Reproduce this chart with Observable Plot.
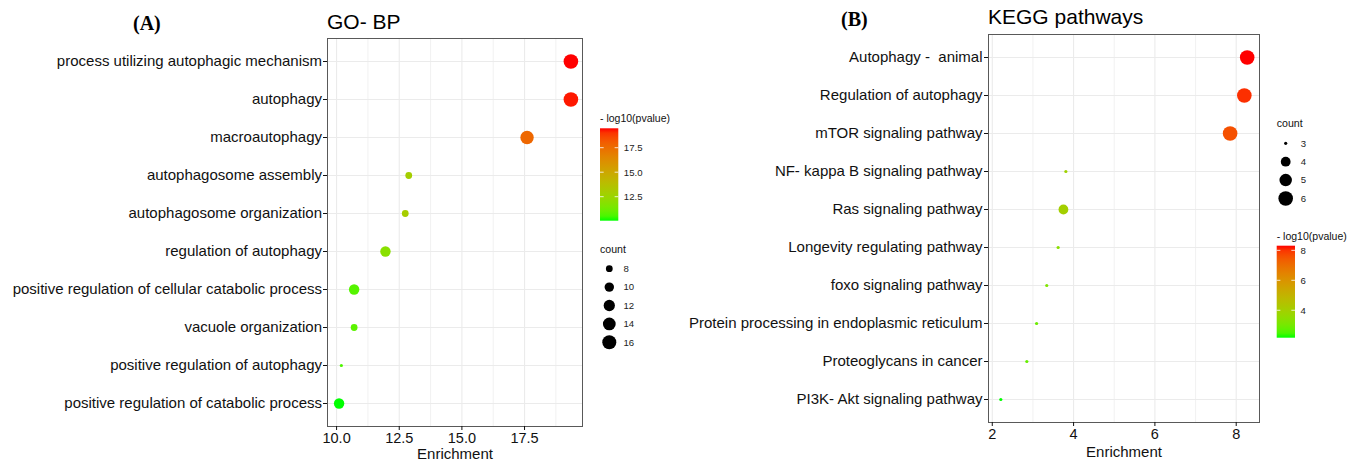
<!DOCTYPE html>
<html>
<head>
<meta charset="utf-8">
<script src="https://cdn.jsdelivr.net/npm/d3@7"></script>
<script src="https://cdn.jsdelivr.net/npm/@observablehq/plot@0.6"></script>
<style>
  body { margin: 0; background: #fff; }
  #wrap { position: relative; width: 1359px; height: 464px; overflow: hidden; background: #fff;
          font-family: "Liberation Sans", Arial, sans-serif; }
  #wrap > svg { position: absolute; top: 0; }
</style>
</head>
<body>
<div id="wrap"></div>
<script>
// ---------- Panel A: GO-BP ----------
const goTerms = [
  "process utilizing autophagic mechanism",
  "autophagy",
  "macroautophagy",
  "autophagosome assembly",
  "autophagosome organization",
  "regulation of autophagy",
  "positive regulation of cellular catabolic process",
  "vacuole organization",
  "positive regulation of autophagy",
  "positive regulation of catabolic process"
];
const goEnrichment = [19.35, 19.35, 17.6, 12.88, 12.74, 11.95, 10.7, 10.7, 10.19, 10.1];
const goCount = [17, 17, 15, 8, 8, 11, 11, 8, 7, 11];
const goLogP = [19.48, 19.35, 17.7, 12.9, 13.0, 11.9, 10.7, 10.8, 10.6, 10.05];
const goXTicks = [10, 12.5, 15, 17.5];
const goXMinor = [11.25, 13.75, 16.25, 18.75];
const goColorTicks = [12.5, 15, 17.5];
const goCountBreaks = [8, 10, 12, 14, 16];

// ---------- Panel B: KEGG ----------
const keggTerms = [
  "Autophagy -  animal",
  "Regulation of autophagy",
  "mTOR signaling pathway",
  "NF- kappa B signaling pathway",
  "Ras signaling pathway",
  "Longevity regulating pathway",
  "foxo signaling pathway",
  "Protein processing in endoplasmic reticulum",
  "Proteoglycans in cancer",
  "PI3K- Akt signaling pathway"
];
const keggEnrichment = [8.27, 8.20, 7.85, 3.81, 3.75, 3.62, 3.34, 3.09, 2.85, 2.21];
const keggCount = [6, 6, 6, 3, 4, 3, 3, 3, 3, 3];
const keggLogP = [8.31, 8.05, 7.6, 3.9, 4.0, 3.4, 3.2, 2.9, 2.8, 2.17];
const keggXTicks = [2, 4, 6, 8];
const keggXMinor = [3, 5, 7];
const keggColorTicks = [4, 6, 8];
const keggCountBreaks = [3, 4, 5, 6];

const lowColor = "#00FF00", highColor = "#FF0000";
const font = "Liberation Sans, Arial, sans-serif";

function extent(a) { return [Math.min(...a), Math.max(...a)]; }

function panel(o) {
  const data = o.terms.map((t, i) => ({term: t, enrichment: o.enrich[i], count: o.counts[i], logp: o.logp[i]}));
  const [cMin, cMax] = extent(o.counts);
  const [xMin, xMax] = extent(o.enrich);
  const pad = (xMax - xMin) * 0.05;
  const svg = Plot.plot({
    width: o.width, height: 464,
    marginLeft: o.mL, marginRight: o.mR, marginTop: o.mT, marginBottom: o.mB,
    style: {fontFamily: font, background: "transparent", overflow: "visible", color: "#111"},
    x: {domain: [xMin - pad, xMax + pad]},
    y: {type: "point", domain: o.terms, padding: 0.6},
    color: {type: "linear", domain: extent(o.logp), range: [lowColor, highColor], interpolate: "lab"},
    r: {type: "sqrt", transform: c => c - cMin, domain: [0, cMax - cMin], range: [1.6, 7.3]},
    marks: [
      Plot.gridX(o.minor, {stroke: "#EBEBEB", strokeOpacity: 1, strokeWidth: 0.7}),
      Plot.gridX(o.ticks, {stroke: "#EBEBEB", strokeOpacity: 1, strokeWidth: 1.1}),
      Plot.gridY(o.terms, {stroke: "#EBEBEB", strokeOpacity: 1, strokeWidth: 1.1}),
      Plot.frame({stroke: "#595959", strokeWidth: 1}),
      Plot.axisY({tickSize: 4, tickPadding: o.yPad, fontSize: 15, color: "#111", label: null}),
      Plot.axisX(o.ticks, {tickSize: 4, tickPadding: o.xPad, fontSize: 14.5, color: "#111",
                          tickFormat: o.fmt, label: null}),
      Plot.text(["Enrichment"], {text: d => d, frameAnchor: "bottom", dy: o.labelDy,
                                 lineAnchor: "bottom", fontSize: 15, fill: "#111"}),
      Plot.dot(data, {x: "enrichment", y: "term", r: "count", fill: "logp"})
    ]
  });
  svg.style.left = o.left + "px";
  return svg;
}

const wrap = document.getElementById("wrap");

wrap.appendChild(panel({
  terms: goTerms, enrich: goEnrichment, counts: goCount, logp: goLogP,
  ticks: goXTicks, minor: goXMinor, fmt: d3.format(".1f"),
  left: 0, width: 600, mL: 327, mR: 18, mT: 38, mB: 38,
  yPad: 1.5, xPad: 2.5, labelDy: 32.5
}));

wrap.appendChild(panel({
  terms: keggTerms, enrich: keggEnrichment, counts: keggCount, logp: keggLogP,
  ticks: keggXTicks, minor: keggXMinor, fmt: d3.format("d"),
  left: 680, width: 590, mL: 308, mR: 11, mT: 34, mB: 42,
  yPad: 2, xPad: 2, labelDy: 34
}));

// ---------- overlay: titles and legends ----------
const ov = d3.select(wrap).append("svg")
  .attr("width", 1359).attr("height", 464)
  .style("left", "0px").style("pointer-events", "none")
  .attr("font-family", font);

function title(x, y, txt, size, fam, weight) {
  ov.append("text").attr("x", x).attr("y", y).text(txt)
    .attr("font-size", size).attr("font-family", fam).attr("font-weight", weight || "normal")
    .attr("fill", "#000");
}
title(133, 29.5, "(A)", 20, "Liberation Serif, Times New Roman, serif", "bold");
title(327, 28.5, "GO- BP", 21, font);
title(841, 26.4, "(B)", 20, "Liberation Serif, Times New Roman, serif", "bold");
title(988, 23.5, "KEGG pathways", 21, font);

let gid = 0;
function colorbar(x, y, w, h, values, ticks, fmt, titleY) {
  const dom = extent(values);
  const cs = Plot.scale({color: {type: "linear", domain: dom, range: [lowColor, highColor], interpolate: "lab"}});
  const id = "grad" + (gid++);
  const grad = ov.append("defs").append("linearGradient").attr("id", id)
    .attr("x1", 0).attr("y1", 1).attr("x2", 0).attr("y2", 0);
  for (let i = 0; i <= 20; i++) {
    const v = dom[0] + (dom[1] - dom[0]) * i / 20;
    grad.append("stop").attr("offset", i / 20).attr("stop-color", cs.apply(v));
  }
  ov.append("text").attr("x", x).attr("y", titleY).text("- log10(pvalue)")
    .attr("font-size", 10.5).attr("fill", "#111");
  ov.append("rect").attr("x", x).attr("y", y).attr("width", w).attr("height", h).attr("fill", `url(#${id})`);
  const ys = d3.scaleLinear().domain(dom).range([y + h, y]);
  for (const t of ticks) {
    const ty = ys(t);
    ov.append("line").attr("x1", x).attr("x2", x + w / 5).attr("y1", ty).attr("y2", ty)
      .attr("stroke", "#fff").attr("stroke-width", 0.8);
    ov.append("line").attr("x1", x + w - w / 5).attr("x2", x + w).attr("y1", ty).attr("y2", ty)
      .attr("stroke", "#fff").attr("stroke-width", 0.8);
    ov.append("text").attr("x", x + w + 5.5).attr("y", ty).attr("dy", "0.35em")
      .text(fmt(t)).attr("font-size", 9.6).attr("fill", "#222");
  }
}

function sizeLegend(x, titleY, firstY, step, counts, breaks, dotX, labelX) {
  const [cMin, cMax] = extent(counts);
  const rs = Plot.scale({r: {type: "sqrt", domain: [0, cMax - cMin], range: [1.6, 7.3]}});
  ov.append("text").attr("x", x).attr("y", titleY).text("count").attr("font-size", 10.6).attr("fill", "#111");
  breaks.forEach((b, i) => {
    const cy = firstY + i * step;
    ov.append("circle").attr("cx", dotX).attr("cy", cy).attr("r", rs.apply(b - cMin)).attr("fill", "#000");
    ov.append("text").attr("x", labelX).attr("y", cy).attr("dy", "0.35em").text(b)
      .attr("font-size", 9.6).attr("fill", "#222");
  });
}

// Panel A legends
colorbar(600, 128.3, 18.3, 92.4, goLogP, goColorTicks, d3.format(".1f"), 122);
sizeLegend(600, 253, 268.7, 18.4, goCount, goCountBreaks, 609.3, 623.5);

// Panel B legends
sizeLegend(1276.7, 127, 143.3, 18.4, keggCount, keggCountBreaks, 1285.7, 1300.7);
colorbar(1276.7, 245.7, 18.3, 92, keggLogP, keggColorTicks, d3.format("d"), 240);
</script>
</body>
</html>
